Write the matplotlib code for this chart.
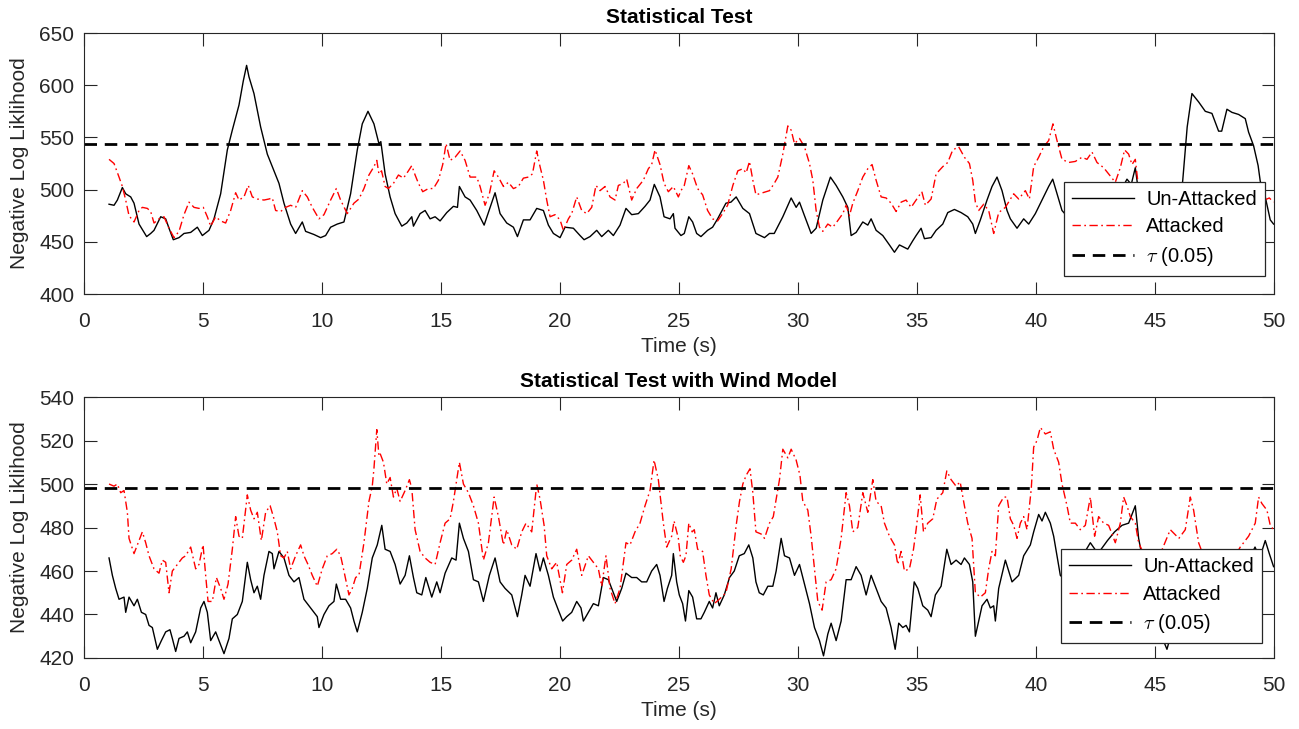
import matplotlib
matplotlib.use("Agg")

import numpy as np
import matplotlib.pyplot as plt

plt.rcParams["font.family"] = ["Liberation Sans", "DejaVu Sans"]
plt.rcParams["mathtext.fontset"] = "cm"

# Data (time in s, negative log likelihood)
top_unattacked = [
    (1.05, 486), (1.26, 485), (1.4, 490), (1.61, 502), (1.75, 496), (1.96, 493), (2.1, 487),
    (2.31, 467), (2.63, 455), (2.8, 458), (2.94, 461), (3.22, 474), (3.43, 472), (3.57, 463),
    (3.75, 452), (3.99, 454), (4.2, 458), (4.48, 459), (4.76, 464), (4.97, 456), (5.25, 461),
    (5.46, 472), (5.74, 496), (6.02, 538), (6.23, 557), (6.51, 581), (6.69, 604), (6.83, 619),
    (6.93, 608), (7.14, 592), (7.42, 560), (7.7, 534), (7.98, 518), (8.19, 506), (8.4, 487),
    (8.68, 467), (8.89, 458), (9.17, 469), (9.31, 460), (9.66, 457), (9.94, 454), (10.15, 456),
    (10.36, 464), (10.64, 467), (10.92, 469), (11.2, 496), (11.48, 538), (11.69, 563),
    (11.93, 575), (12.18, 563), (12.39, 544), (12.47, 546), (12.65, 515), (12.86, 493),
    (13.07, 477), (13.35, 465), (13.56, 468), (13.77, 474), (13.84, 465), (14.12, 477),
    (14.33, 480), (14.54, 472), (14.75, 474), (14.96, 470), (15.24, 478), (15.52, 484),
    (15.69, 483), (15.77, 503), (16.01, 493), (16.22, 490), (16.5, 480), (16.81, 466),
    (17.06, 483), (17.27, 497), (17.48, 477), (17.76, 468), (18.04, 464), (18.21, 455),
    (18.46, 471), (18.74, 471), (19.02, 482), (19.3, 480), (19.51, 466), (19.72, 458),
    (20.0, 454), (20.21, 464), (20.56, 463), (20.84, 456), (21.01, 452), (21.26, 455),
    (21.54, 461), (21.75, 455), (22.03, 461), (22.24, 456), (22.52, 466), (22.77, 482),
    (23.01, 476), (23.29, 477), (23.57, 484), (23.78, 490), (23.96, 505), (24.2, 493),
    (24.37, 474), (24.62, 472), (24.76, 477), (24.83, 463), (25.08, 456), (25.22, 458),
    (25.41, 474), (25.57, 469), (25.74, 458), (25.92, 455), (26.2, 461), (26.41, 464),
    (26.62, 472), (26.97, 487), (27.18, 488), (27.4, 493), (27.68, 482), (27.96, 477),
    (28.23, 458), (28.59, 454), (28.8, 458), (29.0, 458), (29.36, 474), (29.71, 492),
    (29.92, 483), (30.06, 488), (30.27, 475), (30.55, 458), (30.76, 463), (31.04, 490),
    (31.36, 512), (31.6, 504), (31.88, 493), (32.09, 483), (32.23, 456), (32.44, 459),
    (32.72, 469), (32.93, 466), (33.07, 472), (33.28, 461), (33.56, 456), (33.84, 447),
    (34.05, 440), (34.26, 447), (34.61, 443), (34.82, 451), (34.96, 456), (35.17, 463),
    (35.31, 453), (35.59, 454), (35.8, 461), (36.08, 467), (36.29, 478), (36.57, 481),
    (36.85, 478), (37.13, 474), (37.34, 467), (37.45, 458), (37.66, 471), (37.94, 490),
    (38.15, 503), (38.36, 512), (38.57, 499), (38.78, 480), (38.92, 472), (39.2, 463),
    (39.48, 472), (39.69, 467), (39.97, 477), (40.25, 490), (40.53, 503), (40.7, 510),
    (40.88, 496), (41.09, 480), (41.4, 472), (41.8, 468), (42.2, 474), (42.6, 470),
    (43.0, 478), (43.4, 492), (43.82, 510), (44.0, 505), (44.17, 521), (44.35, 490),
    (44.6, 470), (45.0, 465), (45.5, 472), (45.9, 478), (46.16, 508), (46.35, 560),
    (46.55, 592), (46.83, 584), (47.11, 575), (47.39, 573), (47.67, 556), (47.8, 556),
    (48.02, 577), (48.23, 574), (48.51, 572), (48.79, 568), (48.93, 555), (49.14, 542),
    (49.33, 523), (49.42, 508), (49.63, 493), (49.84, 471), (49.98, 467),
]

top_attacked = [
    (1.05, 529), (1.26, 525), (1.47, 512), (1.61, 503), (1.75, 490), (1.89, 475), (2.1, 469),
    (2.31, 480), (2.45, 483), (2.66, 482), (2.8, 479), (2.94, 468), (3.15, 472), (3.36, 474),
    (3.57, 463), (3.78, 454), (3.99, 460), (4.2, 476), (4.41, 488), (4.62, 483), (4.83, 482),
    (5.01, 483), (5.18, 474), (5.32, 465), (5.53, 474), (5.74, 470), (5.95, 468), (6.16, 480),
    (6.37, 497), (6.51, 490), (6.72, 493), (6.9, 504), (7.07, 493), (7.28, 491), (7.56, 490),
    (7.77, 491), (7.91, 492), (8.05, 480), (8.26, 479), (8.47, 483), (8.68, 485), (8.89, 483),
    (9.17, 499), (9.38, 493), (9.59, 483), (9.87, 472), (10.08, 476), (10.36, 490),
    (10.6, 501), (10.78, 490), (11.06, 477), (11.34, 487), (11.55, 491), (11.76, 501),
    (11.97, 514), (12.18, 522), (12.3, 528), (12.39, 515), (12.5, 518), (12.65, 503),
    (12.79, 501), (13.0, 506), (13.21, 514), (13.42, 511), (13.63, 518), (13.77, 523),
    (13.91, 514), (14.05, 506), (14.23, 498), (14.47, 501), (14.68, 501), (14.89, 509),
    (15.07, 524), (15.21, 544), (15.38, 528), (15.59, 531), (15.8, 537), (16.01, 528),
    (16.22, 512), (16.5, 512), (16.64, 503), (16.85, 485), (17.03, 496), (17.23, 518),
    (17.41, 512), (17.62, 503), (17.83, 507), (18.04, 501), (18.25, 503), (18.46, 511),
    (18.67, 512), (18.84, 515), (19.02, 537), (19.16, 522), (19.3, 509), (19.44, 490),
    (19.58, 474), (19.79, 476), (20.0, 471), (20.14, 461), (20.35, 472), (20.49, 477),
    (20.7, 493), (20.91, 480), (21.12, 477), (21.33, 483), (21.51, 504), (21.68, 499),
    (21.89, 503), (22.1, 493), (22.31, 490), (22.45, 504), (22.66, 506), (22.8, 510),
    (23.01, 490), (23.22, 501), (23.5, 509), (23.71, 520), (23.85, 524), (23.99, 538),
    (24.2, 524), (24.37, 506), (24.55, 498), (24.76, 503), (24.97, 493), (25.08, 499),
    (25.22, 504), (25.41, 523), (25.57, 515), (25.78, 501), (25.99, 495), (26.2, 480),
    (26.41, 472), (26.62, 470), (26.83, 477), (27.04, 485), (27.26, 504), (27.47, 518),
    (27.68, 520), (27.82, 516), (27.96, 527), (28.1, 509), (28.23, 495), (28.51, 497),
    (28.8, 499), (29.0, 506), (29.15, 512), (29.36, 534), (29.57, 561), (29.71, 557),
    (29.85, 544), (30.06, 549), (30.27, 541), (30.48, 525), (30.62, 509), (30.76, 480),
    (30.9, 464), (31.04, 460), (31.25, 467), (31.46, 464), (31.66, 470), (31.88, 477),
    (32.02, 485), (32.16, 475), (32.3, 487), (32.51, 499), (32.72, 512), (32.93, 520),
    (33.11, 524), (33.28, 509), (33.49, 493), (33.7, 492), (33.91, 487), (34.12, 479),
    (34.33, 488), (34.54, 490), (34.75, 483), (34.96, 490), (35.2, 498), (35.35, 485),
    (35.59, 491), (35.8, 515), (36.08, 522), (36.29, 526), (36.5, 538), (36.75, 541),
    (36.99, 531), (37.2, 525), (37.34, 509), (37.45, 488), (37.59, 480), (37.8, 486),
    (38.01, 480), (38.22, 458), (38.43, 478), (38.71, 483), (39.06, 496), (39.27, 491),
    (39.55, 499), (39.72, 491), (39.9, 522), (40.11, 531), (40.32, 541), (40.53, 547),
    (40.71, 563), (40.88, 547), (41.09, 529), (41.37, 526), (41.65, 527), (41.93, 531),
    (42.14, 529), (42.35, 536), (42.56, 526), (42.84, 521), (43.05, 515), (43.33, 507),
    (43.54, 521), (43.72, 538), (43.89, 534), (44.03, 524), (44.17, 529), (44.28, 507),
    (44.6, 495), (45.0, 490), (45.4, 498), (45.8, 502), (46.0, 507), (46.4, 495),
    (46.9, 488), (47.5, 492), (48.0, 485), (48.5, 490), (49.0, 486), (49.4, 494),
    (49.6, 490), (49.8, 492), (49.98, 488),
]

bottom_unattacked = [
    (1.05, 466), (1.19, 458), (1.33, 452), (1.47, 447), (1.68, 448), (1.75, 441), (1.89, 448),
    (2.1, 444), (2.24, 447), (2.41, 441), (2.59, 440), (2.73, 435), (2.87, 434), (3.08, 424),
    (3.25, 428), (3.43, 432), (3.61, 433), (3.71, 429), (3.85, 423), (3.99, 429), (4.2, 430),
    (4.34, 432), (4.48, 427), (4.69, 432), (4.9, 443), (5.04, 446), (5.18, 441), (5.32, 428),
    (5.53, 432), (5.74, 426), (5.88, 422), (6.09, 429), (6.23, 438), (6.44, 440), (6.65, 446),
    (6.86, 464), (7.0, 456), (7.14, 450), (7.28, 453), (7.42, 447), (7.56, 458), (7.77, 469),
    (7.91, 468), (7.98, 461), (8.19, 469), (8.4, 466), (8.61, 458), (8.82, 455), (9.03, 457),
    (9.24, 447), (9.52, 443), (9.8, 439), (9.87, 434), (10.08, 440), (10.29, 444), (10.5, 446),
    (10.6, 454), (10.78, 447), (10.99, 447), (11.2, 443), (11.34, 437), (11.48, 432),
    (11.69, 441), (11.9, 452), (12.11, 466), (12.32, 472), (12.51, 481), (12.65, 470),
    (12.86, 469), (13.07, 463), (13.28, 454), (13.49, 458), (13.67, 467), (13.84, 457),
    (13.98, 450), (14.19, 449), (14.36, 457), (14.61, 448), (14.82, 455), (14.96, 450),
    (15.17, 459), (15.45, 466), (15.63, 465), (15.77, 482), (15.94, 475), (16.15, 469),
    (16.36, 456), (16.57, 455), (16.78, 446), (17.03, 458), (17.27, 466), (17.48, 455),
    (17.69, 452), (17.97, 449), (18.21, 439), (18.39, 449), (18.53, 458), (18.74, 453),
    (18.99, 468), (19.16, 460), (19.3, 466), (19.51, 458), (19.72, 448), (19.93, 442),
    (20.11, 437), (20.28, 439), (20.49, 441), (20.7, 446), (20.88, 443), (20.98, 437),
    (21.19, 441), (21.4, 445), (21.61, 444), (21.82, 457), (22.03, 456), (22.24, 450),
    (22.38, 446), (22.59, 452), (22.77, 459), (23.01, 457), (23.22, 457), (23.43, 455),
    (23.64, 455), (23.85, 460), (24.06, 463), (24.2, 458), (24.37, 446), (24.51, 452),
    (24.69, 458), (24.76, 468), (24.9, 455), (25.01, 449), (25.15, 445), (25.27, 437),
    (25.41, 451), (25.57, 448), (25.74, 438), (25.92, 438), (26.06, 441), (26.27, 446),
    (26.41, 443), (26.55, 450), (26.69, 444), (26.9, 449), (27.12, 457), (27.32, 460),
    (27.53, 467), (27.74, 468), (27.93, 472), (28.1, 466), (28.23, 455), (28.37, 450),
    (28.54, 449), (28.73, 453), (28.94, 453), (29.08, 460), (29.29, 475), (29.43, 467),
    (29.64, 466), (29.85, 458), (30.06, 463), (30.27, 454), (30.48, 445), (30.69, 434),
    (30.9, 428), (31.07, 421), (31.25, 431), (31.39, 436), (31.6, 428), (31.81, 437),
    (32.02, 456), (32.23, 456), (32.44, 462), (32.65, 458), (32.86, 449), (33.07, 458),
    (33.28, 452), (33.49, 446), (33.7, 443), (33.91, 434), (34.08, 424), (34.23, 436),
    (34.4, 434), (34.54, 435), (34.68, 432), (34.88, 455), (35.03, 452), (35.24, 444),
    (35.45, 442), (35.59, 439), (35.77, 449), (36.01, 453), (36.25, 470), (36.43, 463),
    (36.64, 465), (36.85, 463), (36.99, 466), (37.2, 463), (37.34, 455), (37.45, 430),
    (37.59, 437), (37.73, 444), (37.94, 447), (38.08, 443), (38.22, 444), (38.29, 437),
    (38.43, 452), (38.71, 465), (38.99, 455), (39.27, 458), (39.48, 467), (39.76, 472),
    (39.9, 478), (40.11, 486), (40.25, 483), (40.39, 487), (40.6, 482), (40.74, 476),
    (40.88, 467), (41.02, 458), (41.3, 455), (41.6, 460), (41.9, 466), (42.28, 473),
    (42.6, 468), (43.0, 474), (43.3, 478), (43.61, 481), (43.89, 482), (44.17, 490),
    (44.31, 475), (44.6, 458), (44.9, 445), (45.2, 432), (45.5, 424), (45.8, 436),
    (46.2, 448), (46.6, 444), (47.0, 438), (47.4, 432), (47.74, 427), (48.0, 436),
    (48.4, 450), (48.8, 462), (49.2, 471), (49.4, 466), (49.63, 474), (49.8, 468),
    (49.98, 462),
]

bottom_attacked = [
    (1.05, 500), (1.26, 499), (1.4, 500), (1.54, 496), (1.68, 497), (1.82, 487), (1.89, 475),
    (2.1, 468), (2.24, 472), (2.45, 478), (2.59, 473), (2.73, 467), (2.94, 461), (3.15, 459),
    (3.29, 465), (3.43, 464), (3.57, 450), (3.71, 460), (3.92, 463), (4.13, 466), (4.27, 467),
    (4.48, 471), (4.69, 461), (4.83, 463), (5.0, 472), (5.11, 458), (5.21, 446), (5.39, 446),
    (5.56, 457), (5.74, 452), (5.88, 447), (6.05, 454), (6.23, 470), (6.37, 485), (6.51, 476),
    (6.65, 475), (6.86, 495), (7.0, 488), (7.14, 484), (7.28, 487), (7.45, 474), (7.63, 487),
    (7.82, 490), (7.98, 484), (8.12, 478), (8.26, 467), (8.4, 466), (8.54, 469), (8.68, 461),
    (8.89, 467), (9.1, 472), (9.24, 467), (9.41, 463), (9.59, 458), (9.8, 453), (10.01, 461),
    (10.22, 467), (10.43, 468), (10.62, 470), (10.78, 467), (10.92, 460), (11.13, 449),
    (11.27, 452), (11.41, 457), (11.55, 458), (11.76, 473), (11.97, 492), (12.11, 499),
    (12.18, 507), (12.3, 525), (12.39, 513), (12.44, 514), (12.58, 510), (12.72, 500),
    (12.86, 503), (13.0, 494), (13.14, 498), (13.28, 492), (13.49, 497), (13.67, 502),
    (13.77, 498), (13.91, 479), (14.12, 469), (14.33, 466), (14.54, 464), (14.75, 463),
    (14.96, 473), (15.17, 482), (15.38, 484), (15.52, 492), (15.77, 510), (15.94, 500),
    (16.15, 496), (16.36, 490), (16.57, 482), (16.78, 465), (16.99, 473), (17.23, 494),
    (17.41, 485), (17.62, 472), (17.76, 479), (17.97, 472), (18.18, 470), (18.39, 478),
    (18.57, 482), (18.81, 478), (19.02, 500), (19.16, 493), (19.33, 481), (19.44, 467),
    (19.65, 461), (19.86, 464), (20.1, 450), (20.28, 463), (20.49, 465), (20.7, 470),
    (20.91, 458), (21.19, 467), (21.4, 464), (21.61, 461), (21.75, 453), (21.93, 467),
    (22.1, 452), (22.31, 445), (22.52, 452), (22.77, 473), (22.94, 472), (23.15, 478),
    (23.36, 482), (23.57, 490), (23.78, 497), (23.95, 511), (24.13, 502), (24.34, 482),
    (24.48, 471), (24.69, 476), (24.79, 483), (24.97, 475), (25.05, 467), (25.18, 464),
    (25.29, 467), (25.41, 482), (25.55, 478), (25.64, 479), (25.78, 470), (25.99, 469),
    (26.13, 458), (26.27, 449), (26.48, 445), (26.69, 447), (26.97, 450), (27.19, 461),
    (27.4, 481), (27.54, 492), (27.68, 500), (27.82, 504), (27.98, 507), (28.1, 496),
    (28.23, 478), (28.45, 477), (28.59, 475), (28.8, 482), (28.96, 485), (29.08, 493),
    (29.22, 502), (29.36, 516), (29.57, 512), (29.71, 516), (29.92, 511), (30.08, 504),
    (30.2, 492), (30.41, 488), (30.55, 476), (30.69, 461), (30.83, 446), (31.01, 442),
    (31.18, 455), (31.39, 456), (31.6, 461), (31.81, 475), (32.02, 496), (32.16, 490),
    (32.3, 478), (32.51, 480), (32.72, 496), (32.93, 487), (33.14, 502), (33.28, 492),
    (33.49, 490), (33.63, 482), (33.84, 476), (34.05, 472), (34.19, 463), (34.33, 469),
    (34.47, 460), (34.68, 461), (34.85, 470), (34.96, 479), (35.13, 495), (35.27, 478),
    (35.45, 482), (35.66, 484), (35.83, 493), (36.08, 496), (36.25, 506), (36.43, 502),
    (36.64, 499), (36.81, 501), (36.99, 490), (37.13, 482), (37.31, 475), (37.45, 450),
    (37.66, 448), (37.87, 450), (38.01, 461), (38.15, 469), (38.29, 467), (38.43, 490),
    (38.64, 494), (38.78, 494), (38.92, 484), (39.06, 481), (39.2, 475), (39.34, 482),
    (39.48, 485), (39.62, 479), (39.8, 498), (39.9, 517), (40.04, 520), (40.18, 526),
    (40.39, 523), (40.6, 524), (40.74, 516), (40.95, 510), (41.09, 500), (41.3, 490),
    (41.44, 482), (41.65, 482), (41.86, 479), (42.07, 481), (42.28, 494), (42.46, 476),
    (42.63, 485), (42.84, 482), (43.05, 481), (43.33, 473), (43.54, 482), (43.68, 494),
    (43.82, 490), (43.96, 485), (44.17, 482), (44.31, 473), (44.6, 466), (45.0, 462),
    (45.3, 470), (45.64, 479), (46.0, 475), (46.27, 479), (46.48, 494), (46.62, 488),
    (46.83, 473), (47.1, 465), (47.5, 462), (47.9, 468), (48.2, 464), (48.58, 471),
    (48.93, 476), (49.21, 482), (49.35, 494), (49.49, 491), (49.7, 488), (49.84, 481),
    (49.98, 479),
]

tau_top = 544
tau_bottom = 498
titles = ["Statistical Test", "Statistical Test with Wind Model"]
ylims = [(400, 650), (420, 540)]
yticks = [np.arange(400, 651, 50), np.arange(420, 541, 20)]
xticks = np.arange(0, 51, 5)

fig = plt.figure(figsize=(12.99, 7.29), dpi=100)
grey = "#262626"
fs = 15

panels = [
    (top_unattacked, top_attacked, tau_top, [0.0647, 0.5967, 0.9161, 0.358], (0.9924, 0.069)),
    (bottom_unattacked, bottom_attacked, tau_bottom, [0.0647, 0.0974, 0.9161, 0.358], (0.9899, 0.057)),
]

for i, (ua, att, tau, pos, leg_anchor) in enumerate(panels):
    ax = fig.add_axes(pos)
    ua = np.array(ua)
    att = np.array(att)
    ax.plot(ua[:, 0], ua[:, 1], color="black", lw=1.0, label="Un-Attacked")
    ax.plot(att[:, 0], att[:, 1], color="red", lw=1.0, dashes=(6, 2.5, 1.2, 2.5), label="Attacked")
    ax.plot([0, 50], [tau, tau], color="black", lw=2.0, dashes=(4.5, 2.8), label=r"$\tau$ (0.05)")

    ax.set_xlim(0, 50)
    ax.set_ylim(*ylims[i])
    ax.set_xticks(xticks)
    ax.set_yticks(yticks[i])
    ax.tick_params(direction="in", length=9, width=0.8, top=True, right=True,
                   labelsize=fs, colors=grey, labelcolor=grey)
    ax.tick_params(axis="x", pad=13)
    ax.tick_params(axis="y", pad=7)
    for s in ax.spines.values():
        s.set_color(grey)
        s.set_linewidth(0.8)

    ax.set_xlabel("Time (s)", fontsize=fs, color=grey, labelpad=4)
    ax.set_ylabel("Negative Log Liklihood", fontsize=fs, color=grey, labelpad=7)
    ax.set_title(titles[i], fontsize=fs, fontweight="bold", pad=7)

    leg = ax.legend(loc="lower right", bbox_to_anchor=leg_anchor, bbox_transform=ax.transAxes,
                    borderaxespad=0, fontsize=14.5, fancybox=False, framealpha=1,
                    edgecolor=grey, handlelength=3.1, handletextpad=0.6,
                    labelspacing=0.42, borderpad=0.4)
    leg.get_frame().set_linewidth(0.9)

fig.savefig("out.png", dpi=100)
